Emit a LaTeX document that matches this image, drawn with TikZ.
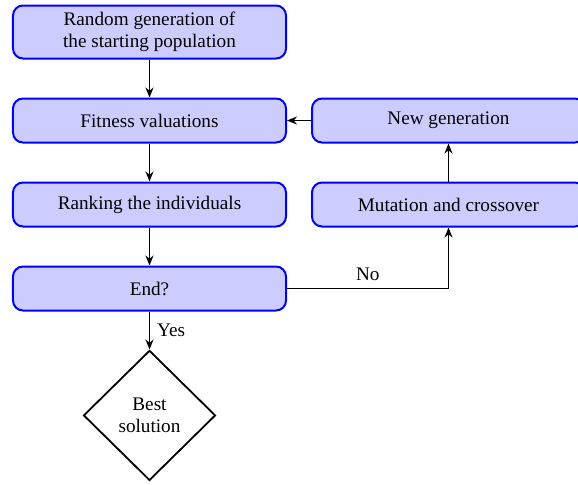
\documentclass[tikz,border=0pt]{standalone}
\usepackage{fontspec}
\setmainfont{Liberation Serif}
\usetikzlibrary{shapes.geometric, arrows.meta, positioning}

\begin{document}
\begin{tikzpicture}[
    node distance=19pt and 12pt,
    every node/.style={font=\fontsize{9.6pt}{11pt}\selectfont},
    process/.style={rectangle, rounded corners=5pt, minimum width=136.5pt, minimum height=22pt, text centered, align=center, draw=blue, fill=blue!20, line width=1pt, inner sep=2pt},
    decision/.style={diamond, text centered, align=center, draw=black, line width=0.9pt, aspect=1, minimum width=66pt, minimum height=65pt, inner sep=1pt},
    arrow/.style={line width=0.9pt, -{Stealth[length=5pt, width=4pt]}}
]
\useasboundingbox (-74.75pt,16pt) rectangle (214.25pt,-226pt);

\node (init) [process, minimum height=26.5pt] {Random generation of\\the starting population};
\node (fit) [process, below=of init] {Fitness valuations};
\node (rank) [process, below=of fit] {Ranking the individuals};
\node (end) [process, below=of rank] {End?};
\node (best) [decision, below=of end] {Best\\solution};
\node (newgen) [process, right=of fit] {New generation};
\node (mut) [process, right=of rank] {Mutation and crossover};

\draw [arrow] (init) -- (fit);
\draw [arrow] (fit) -- (rank);
\draw [arrow] (rank) -- (end);
\draw [arrow] (end) -- node[right] {Yes} (best);
\draw [arrow] (end.east) -| node[pos=0.25, above] {No} (mut.south);
\draw [arrow] (mut) -- (newgen);
\draw [arrow] (newgen) -- (fit);

\end{tikzpicture}
\end{document}
